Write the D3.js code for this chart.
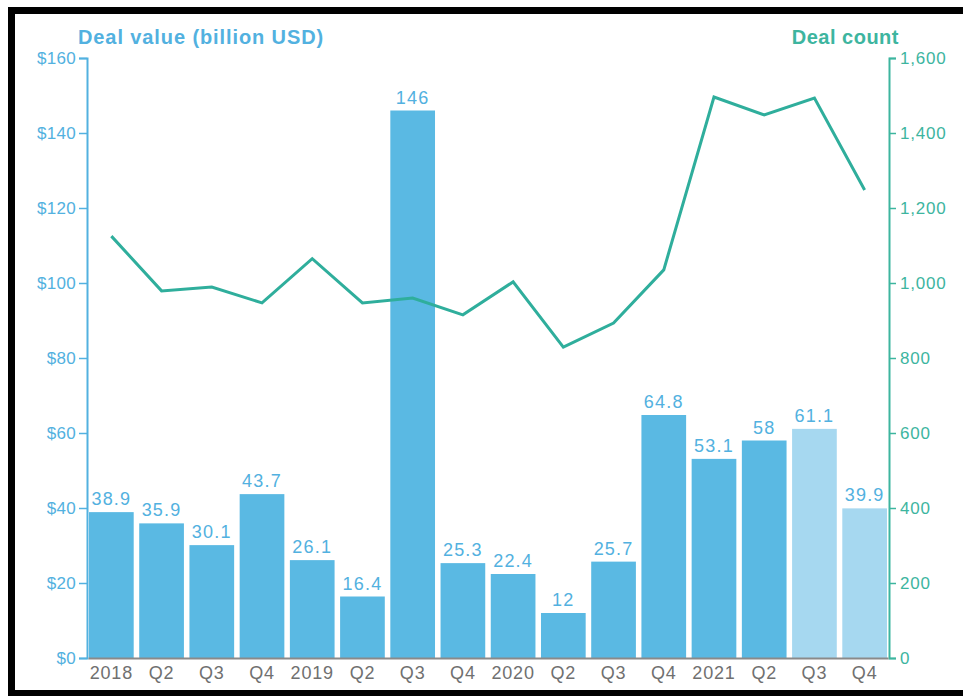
<!DOCTYPE html>
<html>
<head>
<meta charset="utf-8">
<script src="https://cdn.jsdelivr.net/npm/d3@7"></script>
<style>
  body { margin: 0; background: #fff; }
  svg { display: block; font-family: "Liberation Sans", Arial, sans-serif; }
</style>
</head>
<body>
<div id="chart"></div>
<script>
// data
const quarters = ["2018", "Q2", "Q3", "Q4", "2019", "Q2", "Q3", "Q4", "2020", "Q2", "Q3", "Q4", "2021", "Q2", "Q3", "Q4"]
const dealValue = [38.9, 35.9, 30.1, 43.7, 26.1, 16.4, 146, 25.3, 22.4, 12, 25.7, 64.8, 53.1, 58, 61.1, 39.9]
const dealCount = [1125, 979, 989, 947, 1065, 947, 960, 915, 1003, 829, 893, 1035, 1496, 1448, 1493, 1248]
const valueTicks = [0, 20, 40, 60, 80, 100, 120, 140, 160]
const countTicks = [0, 200, 400, 600, 800, 1000, 1200, 1400, 1600]

const W = 963, H = 696
const margin = {top: 58, right: 74, bottom: 38, left: 87}
const width = W - margin.left - margin.right,
    height = H - margin.top - margin.bottom

const blue = "#5ab9e3", lightBlue = "#a6d8f0", teal = "#2fae9c"
const axisBlue = "#52b1e0", axisTeal = "#3db59f"

const svg = d3.select("#chart").append("svg")
    .attr("width", W)
    .attr("height", H)

// black frame
svg.append("rect")
    .attr("x", 11.5).attr("y", 10.5)
    .attr("width", W + 20).attr("height", 683)
    .attr("fill", "none")
    .attr("stroke", "#000")
    .attr("stroke-width", 7)

const g = svg.append("g")
    .attr("transform", "translate(" + margin.left + "," + margin.top + ")")

const x = d3.scaleBand()
    .domain(d3.range(quarters.length))
    .range([1, width - 1])
    .paddingInner(0.11)
    .paddingOuter(0.02)

const yLeft = d3.scaleLinear().domain([0, 160]).range([height, 0])
const yRight = d3.scaleLinear().domain([0, 1600]).range([height, 0])

// bars
g.selectAll("rect.bar")
    .data(dealValue)
    .join("rect")
    .attr("class", "bar")
    .attr("x", (d, i) => x(i))
    .attr("y", d => yLeft(d))
    .attr("width", x.bandwidth())
    .attr("height", d => height - yLeft(d))
    .attr("fill", (d, i) => i >= 14 ? lightBlue : blue)

// bar labels
g.selectAll("text.val")
    .data(dealValue)
    .join("text")
    .attr("class", "val")
    .attr("x", (d, i) => x(i) + x.bandwidth() / 2)
    .attr("y", d => yLeft(d) - 7)
    .attr("text-anchor", "middle")
    .attr("fill", axisBlue)
    .style("font-size", "18px")
    .style("letter-spacing", "1.2px")
    .text(d => d)

// line
const line = d3.line()
    .x((d, i) => x(i) + x.bandwidth() / 2)
    .y(d => yRight(d))

g.append("path")
    .datum(dealCount)
    .attr("d", line)
    .attr("fill", "none")
    .attr("stroke", teal)
    .attr("stroke-width", 3)

// left axis
const axL = g.append("g")
    .call(d3.axisLeft(yLeft).tickValues(valueTicks).tickSize(8).tickPadding(3).tickFormat(d => "$" + d))
axL.select(".domain").attr("stroke", axisBlue).attr("stroke-width", 2)
axL.selectAll(".tick line").attr("stroke", axisBlue).attr("stroke-width", 1.5)
axL.selectAll(".tick text").attr("fill", axisBlue).style("font-size", "17px").style("letter-spacing", "0.3px")

// right axis
const axR = g.append("g")
    .attr("transform", "translate(" + width + ",0)")
    .call(d3.axisRight(yRight).tickValues(countTicks).tickSize(7).tickPadding(4).tickFormat(d3.format(",")))
axR.select(".domain").attr("stroke", axisTeal).attr("stroke-width", 2)
axR.selectAll(".tick line").attr("stroke", axisTeal).attr("stroke-width", 1.5)
axR.selectAll(".tick text").attr("fill", axisTeal).style("font-size", "17px").style("letter-spacing", "0.8px")

// bottom axis
const axB = g.append("g")
    .attr("transform", "translate(0," + height + ")")
    .call(d3.axisBottom(x).tickSize(0).tickPadding(8).tickFormat(i => quarters[i]))
axB.select(".domain").attr("stroke", "#8a8a8a").attr("stroke-width", 2)
axB.selectAll(".tick text").attr("fill", "#707070").style("font-size", "18px").style("letter-spacing", "0.8px")

// titles
svg.append("text")
    .attr("x", 78).attr("y", 44)
    .attr("fill", axisBlue)
    .style("font-size", "20px").style("font-weight", "bold")
    .style("letter-spacing", "0.9px")
    .text("Deal value (billion USD)")

svg.append("text")
    .attr("x", 899).attr("y", 44)
    .attr("text-anchor", "end")
    .attr("fill", axisTeal)
    .style("font-size", "20px").style("font-weight", "bold")
    .style("letter-spacing", "0.5px")
    .text("Deal count")
</script>
</body>
</html>
